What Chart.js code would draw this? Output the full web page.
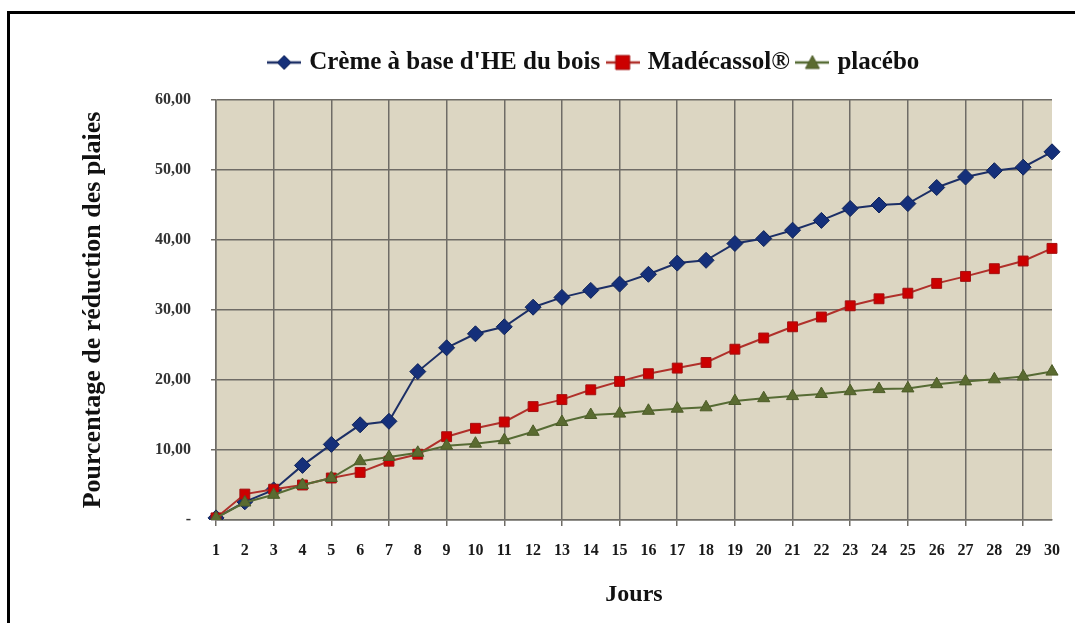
<!DOCTYPE html>
<html>
<head>
<meta charset="utf-8">
<script src="https://cdn.jsdelivr.net/npm/chart.js@4"></script>
<style>
    html, body { margin: 0; padding: 0; background: #ffffff; }
    #wrap { position: relative; width: 1075px; height: 623px; overflow: hidden; }
    #frame { position: absolute; left: 7px; top: 11px; width: 1100px; height: 700px;
             border-left: 3px solid #000; border-top: 3px solid #000; }
    canvas { position: absolute; left: 0; top: 0; }
</style>
</head>
<body>
<div id="wrap">
    <div id="frame"></div>
    <canvas id="chart" width="1075" height="623"></canvas>
</div>
<script>
const days = ["1","2","3","4","5","6","7","8","9","10","11","12","13","14","15",
              "16","17","18","19","20","21","22","23","24","25","26","27","28","29","30"];

const creme = [0.3, 2.6, 4.3, 7.8, 10.8, 13.6, 14.1, 21.2, 24.6, 26.6, 27.6, 30.4, 31.8, 32.8, 33.7,
               35.1, 36.7, 37.1, 39.5, 40.2, 41.4, 42.8, 44.5, 45.0, 45.2, 47.5, 49.0, 49.9, 50.4, 52.6];
const madecassol = [0.3, 3.7, 4.4, 5.0, 6.0, 6.8, 8.4, 9.4, 11.9, 13.1, 14.0, 16.2, 17.2, 18.6, 19.8,
                    20.9, 21.7, 22.5, 24.4, 26.0, 27.6, 29.0, 30.6, 31.6, 32.4, 33.8, 34.8, 35.9, 37.0, 38.8];
const placebo = [0.3, 2.5, 3.6, 5.0, 6.0, 8.4, 9.0, 9.6, 10.6, 10.9, 11.4, 12.6, 14.0, 15.0, 15.2,
                 15.6, 15.9, 16.1, 17.0, 17.4, 17.7, 18.0, 18.4, 18.7, 18.8, 19.4, 19.8, 20.1, 20.5, 21.2];

const yTickLabels = ["-", "10,00", "20,00", "30,00", "40,00", "50,00", "60,00"];

const FONT = "'Liberation Serif', 'Times New Roman', serif";
const GRID = "#6f6c66";

// small legend picture: a line with the marker in the middle (like Excel)
function legendIcon(style, lineColor, fill, border) {
    const c = document.createElement("canvas");
    c.width = 34; c.height = 18;
    const g = c.getContext("2d");
    g.strokeStyle = lineColor;
    g.lineWidth = 2.5;
    g.beginPath(); g.moveTo(0, 9); g.lineTo(34, 9); g.stroke();
    g.fillStyle = fill;
    g.strokeStyle = border;
    g.lineWidth = 1;
    g.beginPath();
    if (style === "rectRot") {
        g.moveTo(17, 2); g.lineTo(24, 9); g.lineTo(17, 16); g.lineTo(10, 9);
    } else if (style === "rect") {
        g.rect(10, 2, 14, 14);
    } else {
        g.moveTo(17, 2); g.lineTo(24, 15); g.lineTo(10, 15);
    }
    g.closePath(); g.fill(); g.stroke();
    return c;
}

const series = [
    { label: "Crème à base d'HE du bois", data: creme, line: "#1c2f66", fill: "#15307a", border: "#0f2359", style: "rectRot", radius: 8, order: 2 },
    { label: "Madécassol®", data: madecassol, line: "#b0302a", fill: "#cc0000", border: "#a31010", style: "rect", radius: 7, order: 1 },
    { label: "placébo", data: placebo, line: "#566b34", fill: "#5a6b30", border: "#4d5c28", style: "triangle", radius: 7, order: 0 }
];

const plotBg = {
    id: "plotBg",
    beforeDraw(chart) {
        const a = chart.chartArea;
        const ctx = chart.ctx;
        ctx.save();
        ctx.fillStyle = "#dcd6c2";
        ctx.fillRect(a.left, a.top, a.right - a.left, a.bottom - a.top);
        ctx.restore();
    },
    beforeUpdate(chart) {
        if (chart.legend && !chart.legend._fixed) {
            const fit = chart.legend.fit;
            chart.legend.fit = function() {
                fit.call(this);
                this.height = 60;
            };
            chart.legend._fixed = true;
        }
    },
    afterLayout(chart) {
        // the legend sits centred over the plot, not over the whole canvas
        if (chart.legend) {
            chart.legend.left += 26;
            chart.legend.right += 26;
        }
    }
};

new Chart(document.getElementById("chart"), {
    type: "line",
    data: {
        labels: days,
        datasets: series.map(s => ({
            label: s.label,
            data: s.data,
            borderColor: s.line,
            borderWidth: 2,
            backgroundColor: s.fill,
            pointBackgroundColor: s.fill,
            pointBorderColor: s.border,
            pointBorderWidth: 1,
            pointStyle: s.style,
            pointRadius: s.radius,
            tension: 0,
            fill: false,
            order: s.order
        }))
    },
    options: {
        responsive: false,
        animation: false,
        layout: { padding: { left: 78, top: 40, right: 14, bottom: 10 } },
        plugins: {
            tooltip: { enabled: false },
            legend: {
                position: "top",
                labels: {
                    padding: 10,
                    usePointStyle: true,
                    color: "#111",
                    font: { family: FONT, size: 25, weight: "bold" },
                    generateLabels: () => series.map((s, i) => ({
                        text: s.label,
                        datasetIndex: i,
                        pointStyle: legendIcon(s.style, s.line, s.fill, s.border),
                        fontColor: "#111",
                        lineWidth: 0,
                        strokeStyle: "transparent",
                        fillStyle: "transparent"
                    }))
                }
            }
        },
        scales: {
            x: {
                offset: false,
                grid: {
                    color: c => (c.index % 2 === 0 ? GRID : "transparent"),
                    lineWidth: 1.5,
                    tickLength: 6,
                    drawTicks: true
                },
                border: { color: GRID, width: 1.5 },
                ticks: {
                    autoSkip: false,
                    maxRotation: 0,
                    padding: 15,
                    color: "#1a1a1a",
                    font: { family: FONT, size: 16, weight: "bold" }
                },
                title: {
                    display: true,
                    text: "Jours",
                    color: "#111",
                    padding: { top: 10, bottom: 4 },
                    font: { family: FONT, size: 24, weight: "bold" }
                },
                afterFit: s => { s.height = 93; }
            },
            y: {
                min: 0,
                max: 60,
                grid: { color: GRID, lineWidth: 1.5, tickLength: 5 },
                border: { color: GRID, width: 1.5 },
                ticks: {
                    stepSize: 10,
                    padding: 20,
                    color: "#333",
                    font: { family: FONT, size: 16, weight: "bold" },
                    callback: v => yTickLabels[Math.round(v / 10)]
                },
                title: {
                    display: true,
                    text: "Pourcentage de réduction des plaies",
                    color: "#111",
                    padding: { top: 0, bottom: 4 },
                    font: { family: FONT, size: 26, weight: "bold" }
                },
                afterFit: s => { s.width = 138; }
            }
        }
    },
    plugins: [plotBg]
});
</script>
</body>
</html>
